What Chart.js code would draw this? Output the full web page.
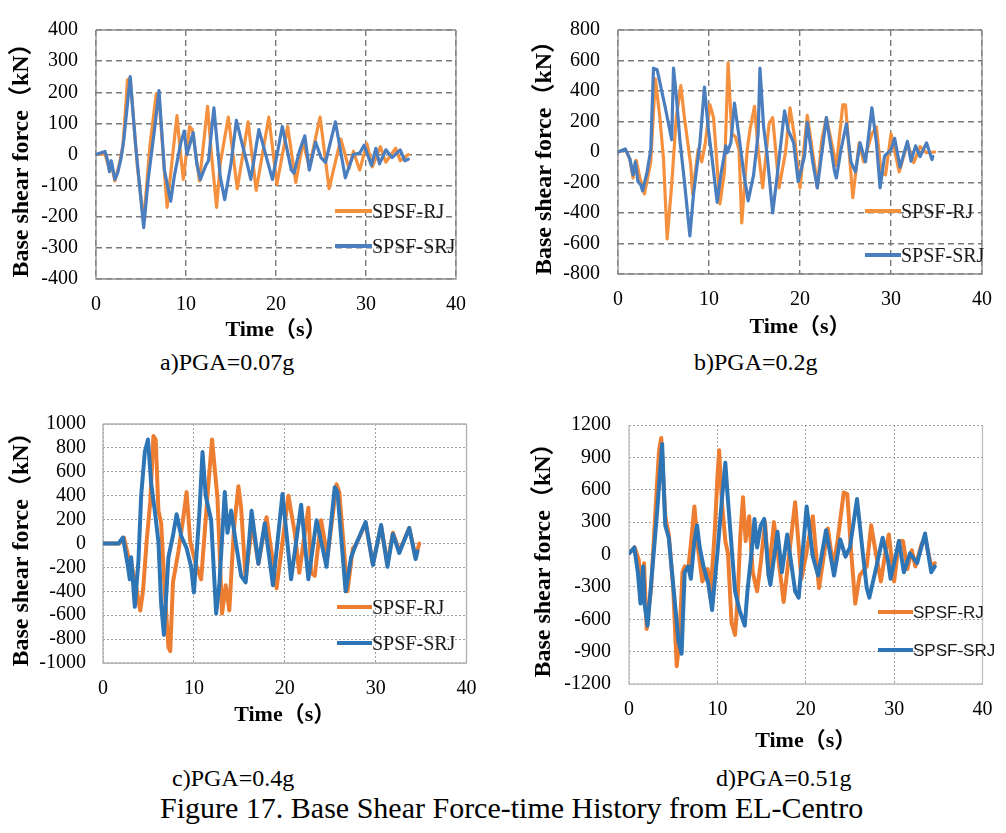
<!DOCTYPE html>
<html><head><meta charset="utf-8">
<script src="https://cdn.jsdelivr.net/npm/chart.js@4.4.1/dist/chart.umd.min.js"></script>
<style>
html,body{margin:0;padding:0;background:#fff;}
#wrap{position:relative;width:1006px;height:833px;overflow:hidden;background:#fff;}
canvas{position:absolute;}
.txt{position:absolute;white-space:nowrap;line-height:1;color:#000;transform:translateY(-50%);}
.serif{font-family:"Liberation Serif","Times New Roman",serif;}
.sans{font-family:"Liberation Sans",Arial,sans-serif;}
.lgline{position:absolute;}
</style></head>
<body><div id="wrap"></div>
<script>
// ---------------- data (time s, base shear kN) ----------------
const X_TICKS = [0, 10, 20, 30, 40];
const A_Y_TICKS = [-400, -300, -200, -100, 0, 100, 200, 300, 400];
const B_Y_TICKS = [-800, -600, -400, -200, 0, 200, 400, 600, 800];
const C_Y_TICKS = [-1000, -800, -600, -400, -200, 0, 200, 400, 600, 800, 1000];
const D_Y_TICKS = [-1200, -900, -600, -300, 0, 300, 600, 900, 1200];
const SERIES_NAMES = ['SPSF-RJ', 'SPSF-SRJ'];
const CAPTIONS = ['a)PGA=0.07g', 'b)PGA=0.2g', 'c)PGA=0.4g', 'd)PGA=0.51g'];
const FIG_CAPTION = 'Figure 17. Base Shear Force-time History from EL-Centro';
const X_TITLE = 'Time（s）';
const Y_TITLE = 'Base shear force（kN）';

const A_RJ = [[0,0],[1.0,2],[1.5,-50],[1.7,-30],[2.1,-85],[2.6,-30],[3.0,30],[3.5,240],[3.8,245],[4.6,-40],[5.3,-215],[6.0,30],[6.7,195],[7.0,180],[7.9,-170],[8.6,20],[9.0,125],[9.4,0],[9.7,-80],[10.4,90],[10.7,80],[11.5,-85],[12.4,155],[12.8,10],[13.4,-170],[13.8,-30],[14.7,120],[15.7,-110],[16.9,105],[17.8,-115],[19.2,120],[20.1,-95],[21.3,90],[22.2,-90],[23.0,40],[23.7,-40],[24.9,120],[25.9,-110],[27.2,50],[28.1,-45],[28.6,10],[29.3,-50],[30.1,35],[30.7,-40],[31.6,25],[32.2,-25],[33.3,20],[33.8,-20],[34.7,0]];
const A_SRJ = [[0,0],[1.0,10],[1.3,-20],[1.5,-55],[1.7,-20],[2.1,-80],[2.4,-60],[2.8,-10],[3.1,50],[3.8,250],[4.4,30],[5.3,-235],[5.8,-80],[6.5,80],[7.0,205],[7.6,-50],[8.3,-150],[8.7,-70],[9.4,35],[9.8,75],[10.1,0],[10.8,70],[11.2,-30],[11.6,-80],[12.2,-35],[12.5,-20],[13.1,150],[13.8,-70],[14.3,-145],[15.0,-30],[15.6,110],[16.1,50],[16.8,-30],[17.2,-80],[18.1,80],[19.6,-80],[20.7,90],[21.7,-50],[22.0,-60],[22.6,10],[23.2,60],[23.7,-50],[24.4,40],[25.0,-10],[25.5,-25],[26.6,105],[27.7,-75],[28.6,0],[29.3,5],[29.8,30],[30.6,-35],[31.1,20],[31.5,-30],[32.2,15],[32.9,-10],[33.8,15],[34.3,-20],[34.7,-15]];

const B_RJ = [[0,0],[0.8,15],[1.3,-45],[1.65,-170],[2.0,-55],[2.4,-170],[2.9,-275],[3.6,-65],[4.1,480],[4.6,225],[5.0,-45],[5.4,-570],[5.9,-215],[6.4,225],[6.9,435],[7.3,225],[8.0,-90],[8.2,-275],[8.8,15],[9.2,-65],[9.6,60],[10.1,310],[10.5,225],[11.2,-340],[11.7,-130],[12.1,585],[12.5,120],[12.9,100],[13.3,15],[13.6,-465],[14.2,15],[14.5,145],[15.0,300],[15.4,15],[15.9,-235],[16.6,185],[17.0,225],[17.7,-235],[18.4,-5],[18.9,290],[19.4,100],[20.0,-235],[20.8,240],[21.7,-130],[21.9,-235],[22.4,80],[22.9,225],[24.0,-90],[24.7,310],[25.0,310],[25.8,-300],[26.5,60],[27.0,-65],[27.9,120],[28.4,165],[28.9,-130],[29.4,-150],[30.0,120],[30.9,-130],[31.8,55],[32.5,-70],[33.2,35],[33.9,-5],[34.8,0]];
const B_SRJ = [[0,0],[0.8,20],[1.3,-45],[1.65,-150],[1.9,-65],[2.2,-195],[2.5,-215],[2.7,-255],[3.2,-130],[3.6,15],[3.9,550],[4.3,540],[5.2,290],[5.9,80],[6.1,550],[6.4,375],[6.8,80],[7.3,-195],[7.9,-550],[8.3,-275],[9.0,60],[9.5,425],[9.9,165],[10.3,-25],[10.9,-330],[11.3,-150],[11.85,40],[12.0,-5],[12.4,60],[12.8,320],[13.3,100],[13.8,-130],[14.3,-320],[14.9,-150],[15.4,120],[15.6,550],[16.0,165],[16.4,-25],[17.0,-400],[17.5,-150],[18.3,270],[18.7,145],[19.3,60],[19.8,-195],[20.5,-25],[20.8,195],[21.4,-65],[21.9,-235],[22.9,225],[23.8,-130],[24.0,-170],[24.5,15],[25.1,185],[25.6,-65],[26.1,-130],[26.6,60],[27.2,-65],[27.9,290],[28.4,60],[28.8,-235],[29.3,-25],[30.0,15],[30.4,90],[31.0,-100],[31.8,70],[32.2,-60],[32.7,40],[33.2,-30],[33.9,60],[34.5,-50],[34.6,-30]];

const C_RJ = [[0,0],[1.8,0],[2.3,50],[2.8,-115],[3.1,-170],[3.5,-300],[4.1,-560],[4.4,-400],[4.8,15],[5.2,350],[5.55,900],[5.8,870],[6.1,275],[6.4,170],[6.8,-400],[7.2,-870],[7.4,-900],[7.7,-325],[8.3,-65],[8.8,195],[9.2,430],[9.6,15],[10.2,-170],[10.8,-300],[11.5,400],[12.0,870],[12.6,375],[13.1,-585],[13.5,-350],[13.9,-560],[14.4,115],[14.9,480],[15.2,300],[15.7,-300],[16.4,170],[17.1,-170],[18.0,220],[19.1,-375],[20.4,400],[21.1,90],[21.6,-245],[22.6,300],[22.9,-245],[23.3,-270],[24.0,195],[24.7,-115],[25.7,495],[26.0,430],[26.9,-400],[27.5,-40],[27.8,-15],[28.9,170],[29.7,-170],[30.6,145],[31.3,-170],[31.9,90],[32.6,-65],[33.7,130],[34.4,-115],[34.8,0]];
const C_SRJ = [[0,0],[1.7,0],[2.2,50],[2.7,-170],[2.95,-300],[3.1,-115],[3.5,-530],[3.9,-145],[4.2,400],[4.6,765],[4.95,870],[5.3,505],[5.7,275],[6.1,15],[6.4,-505],[6.7,-765],[7.2,-115],[7.7,65],[8.1,245],[8.6,65],[9.2,-40],[9.7,-195],[10.0,-410],[10.6,245],[10.95,765],[11.3,400],[11.9,195],[12.45,-585],[12.8,-350],[13.4,430],[13.7,90],[14.1,275],[14.6,15],[15.2,-270],[15.7,-325],[16.35,275],[17.1,-170],[17.8,170],[18.7,-350],[19.75,415],[20.7,-300],[21.8,325],[22.6,-300],[23.5,195],[24.6,-195],[25.5,470],[25.8,430],[26.7,-400],[27.3,-115],[27.8,-15],[28.9,180],[29.7,-180],[30.6,155],[31.3,-195],[31.9,80],[32.6,-80],[33.7,130],[34.4,-130],[34.6,-65]];

const D_RJ = [[0,10],[0.65,65],[1.1,-50],[1.4,-400],[1.7,-80],[2.0,-690],[2.5,-310],[3.0,415],[3.4,965],[3.65,1080],[4.1,355],[4.5,185],[5.0,-310],[5.4,-1035],[5.7,-800],[6.05,-165],[6.3,-110],[6.7,-135],[7.0,95],[7.4,445],[7.8,65],[8.3,-250],[8.9,-135],[9.2,-400],[9.7,210],[10.0,705],[10.2,965],[10.5,500],[10.9,125],[11.2,10],[11.6,-630],[12.0,-745],[12.3,-400],[12.6,185],[12.9,530],[13.2,125],[13.6,355],[14.0,-165],[14.5,-340],[14.9,-80],[15.4,300],[15.8,-195],[16.4,300],[17.5,-440],[18.8,485],[19.5,-225],[20.0,-20],[20.8,355],[21.5,-310],[22.5,240],[23.1,-110],[23.6,125],[24.3,575],[24.7,560],[25.1,65],[25.6,-455],[26.1,-195],[26.9,-110],[27.4,270],[28.0,-20],[28.5,-250],[29.1,65],[29.4,185],[30.0,-250],[30.55,125],[31.0,125],[31.5,-135],[32.0,40],[32.4,-110],[33.1,95],[33.5,155],[34.2,-110],[34.6,-80]];
const D_SRJ = [[0,10],[0.6,65],[1.0,-165],[1.3,-455],[1.6,-110],[1.75,-455],[2.1,-660],[2.7,-80],[3.2,415],[3.75,1025],[4.1,270],[4.5,155],[5.0,-280],[5.6,-800],[5.95,-920],[6.3,-165],[6.7,-110],[7.0,-225],[7.4,125],[7.7,270],[8.0,65],[8.5,-135],[9.0,-280],[9.4,-515],[10.0,10],[10.5,500],[10.9,850],[11.2,500],[12.0,-340],[12.5,-515],[13.1,-660],[13.4,-340],[14.0,125],[14.2,330],[14.5,65],[14.9,270],[15.3,330],[15.8,-195],[16.0,-280],[16.8,210],[17.3,-165],[17.9,185],[18.8,-340],[19.2,-400],[20.1,445],[20.8,-20],[21.4,-195],[22.3,225],[23.2,-195],[23.9,140],[24.5,-20],[25.0,65],[25.8,515],[26.5,-20],[26.9,-310],[27.2,-400],[28.0,-110],[28.7,155],[29.3,-50],[29.6,-225],[30.55,125],[31.1,-165],[31.8,10],[32.6,-80],[33.5,195],[34.2,-165],[34.6,-110]];

// ---------------- layout / style ----------------
const SERIF = '"Liberation Serif","Times New Roman","Noto Sans CJK SC",serif';
const PANELS = [
  {left:0, top:0, w:480, h:345, padTop:12, padRight:14, yW:96, xH:66, yTickPad:18, xTickPad:14, xTitlePad:1.8, yTitlePad:7.6,
   yTicks:A_Y_TICKS, rj:A_RJ, srj:A_SRJ, grid:'#7a7a7a', gridW:1.4, dash:[6,4], frame:'#8c8c8c', frameTop:true,
   cRJ:'#F5913E', cSRJ:'#4A7EBF', lw:3.2, lgFont:'serif', lgSize:20, lg:{x1:335,x2:372,y1:211,y2:246}},
  {left:520, top:0, w:486, h:345, padTop:17, padRight:12, yW:98, xH:71, yTickPad:18, xTickPad:14, xTitlePad:4.8, yTitlePad:10.6,
   yTicks:B_Y_TICKS, rj:B_RJ, srj:B_SRJ, grid:'#7a7a7a', gridW:1.4, dash:[6,4], frame:'#8c8c8c', frameTop:true,
   cRJ:'#F5913E', cSRJ:'#4A7EBF', lw:3.2, lgFont:'serif', lgSize:20, lg:{x1:865,x2:901,y1:211,y2:255}},
  {left:0, top:395, w:490, h:340, padTop:11, padRight:22, yW:103, xH:72, yTickPad:17, xTickPad:13.5, xTitlePad:6.8, yTitlePad:7.6,
   yTicks:C_Y_TICKS, rj:C_RJ, srj:C_SRJ, grid:'#a0a0a0', gridW:1, dash:[2,2], frame:'#b0b0b0', frameTop:true,
   cRJ:'#ED7D31', cSRJ:'#2E75B6', lw:4, lgFont:'serif', lgSize:20, lg:{x1:337,x2:372,y1:607,y2:643}},
  {left:520, top:395, w:486, h:360, padTop:13, padRight:12, yW:109, xH:71, yTickPad:18, xTickPad:13.5, xTitlePad:0.8, yTitlePad:9.6,
   yTicks:D_Y_TICKS, rj:D_RJ, srj:D_SRJ, grid:'#a0a0a0', gridW:1, dash:[2,2], frame:'#bfbfbf', frameTop:false,
   cRJ:'#ED7D31', cSRJ:'#2E75B6', lw:4, lgFont:'sans', lgSize:17, lg:{x1:878,x2:913,y1:612,y2:650}}
];
const CAPTION_POS = [{x:160,y:362},{x:694,y:362},{x:172,y:778},{x:716,y:778}];

const framePlugin = {
  id: 'frame',
  beforeDatasetsDraw(chart, args, opts) {
    const {ctx, chartArea: a} = chart;
    ctx.save();
    ctx.strokeStyle = opts.color; ctx.lineWidth = opts.width; ctx.setLineDash([]);
    ctx.beginPath();
    if (opts.top) { ctx.moveTo(a.left, a.top); ctx.lineTo(a.right, a.top); }
    ctx.moveTo(a.right, a.top); ctx.lineTo(a.right, a.bottom); ctx.lineTo(a.left, a.bottom); ctx.lineTo(a.left, a.top);
    ctx.stroke();
    ctx.restore();
  }
};

const wrap = document.getElementById('wrap');
PANELS.forEach((p, i) => {
  const cv = document.createElement('canvas');
  cv.width = p.w; cv.height = p.h;
  cv.style.left = p.left + 'px'; cv.style.top = p.top + 'px';
  cv.style.width = p.w + 'px'; cv.style.height = p.h + 'px';
  wrap.appendChild(cv);
  const gridOpts = {color: p.grid, lineWidth: p.gridW, drawTicks: false};
  new Chart(cv, {
    type: 'line',
    data: {datasets: [
      {label: SERIES_NAMES[0], data: p.rj.map(([x, y]) => ({x, y})), borderColor: p.cRJ, borderWidth: p.lw,
       pointRadius: 0, tension: 0, fill: false, order: 2, borderJoinStyle: 'round', borderCapStyle: 'round'},
      {label: SERIES_NAMES[1], data: p.srj.map(([x, y]) => ({x, y})), borderColor: p.cSRJ, borderWidth: p.lw,
       pointRadius: 0, tension: 0, fill: false, order: 1, borderJoinStyle: 'round', borderCapStyle: 'round'}
    ]},
    options: {
      responsive: false, animation: false, events: [],
      layout: {padding: {top: p.padTop, right: p.padRight, left: 0, bottom: 0}},
      plugins: {legend: {display: false}, tooltip: {enabled: false},
        frame: {color: p.frame, width: 1.3, top: p.frameTop}},
      scales: {
        x: {type: 'linear', min: 0, max: 40,
          afterBuildTicks: s => { s.ticks = X_TICKS.map(v => ({value: v})); },
          afterFit: s => { s.height = p.xH; },
          grid: gridOpts, border: {display: false, dash: p.dash},
          ticks: {padding: p.xTickPad, color: '#000', font: {family: SERIF, size: 20}, maxRotation: 0, autoSkip: false,
                  callback: v => String(v)},
          title: {display: true, text: X_TITLE, color: '#000', font: {family: SERIF, size: 22, weight: 'bold'},
                  padding: {top: 0, bottom: p.xTitlePad}}},
        y: {type: 'linear', min: p.yTicks[0], max: p.yTicks[p.yTicks.length - 1],
          afterBuildTicks: s => { s.ticks = p.yTicks.map(v => ({value: v})); },
          afterFit: s => { s.width = p.yW; },
          grid: gridOpts, border: {display: false, dash: p.dash},
          ticks: {padding: p.yTickPad, color: '#000', font: {family: SERIF, size: 20}, autoSkip: false,
                  callback: v => String(v)},
          title: {display: true, text: Y_TITLE, color: '#000', font: {family: SERIF, size: 24, weight: 'bold'},
                  padding: {top: p.yTitlePad, bottom: 0}}}
      }
    },
    plugins: [framePlugin]
  });
  // legend (inside plot, lower right)
  [[p.lg.y1, p.cRJ, SERIES_NAMES[0]], [p.lg.y2, p.cSRJ, SERIES_NAMES[1]]].forEach(([y, c, name]) => {
    const ln = document.createElement('div');
    ln.className = 'lgline';
    ln.style.cssText = `left:${p.lg.x1}px;top:${y - p.lw / 2}px;width:${p.lg.x2 - p.lg.x1}px;height:${p.lw}px;background:${c};`;
    wrap.appendChild(ln);
    const t = document.createElement('div');
    t.className = 'txt ' + p.lgFont;
    t.style.cssText += `left:${p.lg.x2}px;top:${y}px;font-size:${p.lgSize}px;color:#1a1a1a;`;
    t.textContent = name;
    wrap.appendChild(t);
  });
  const cap = document.createElement('div');
  cap.className = 'txt serif';
  cap.style.cssText += `left:${CAPTION_POS[i].x}px;top:${CAPTION_POS[i].y}px;font-size:24px;`;
  cap.textContent = CAPTIONS[i];
  wrap.appendChild(cap);
});
const fc = document.createElement('div');
fc.className = 'txt serif';
fc.style.cssText += 'left:160px;top:808px;font-size:30px;';
fc.textContent = FIG_CAPTION;
wrap.appendChild(fc);
</script>
</body></html>
